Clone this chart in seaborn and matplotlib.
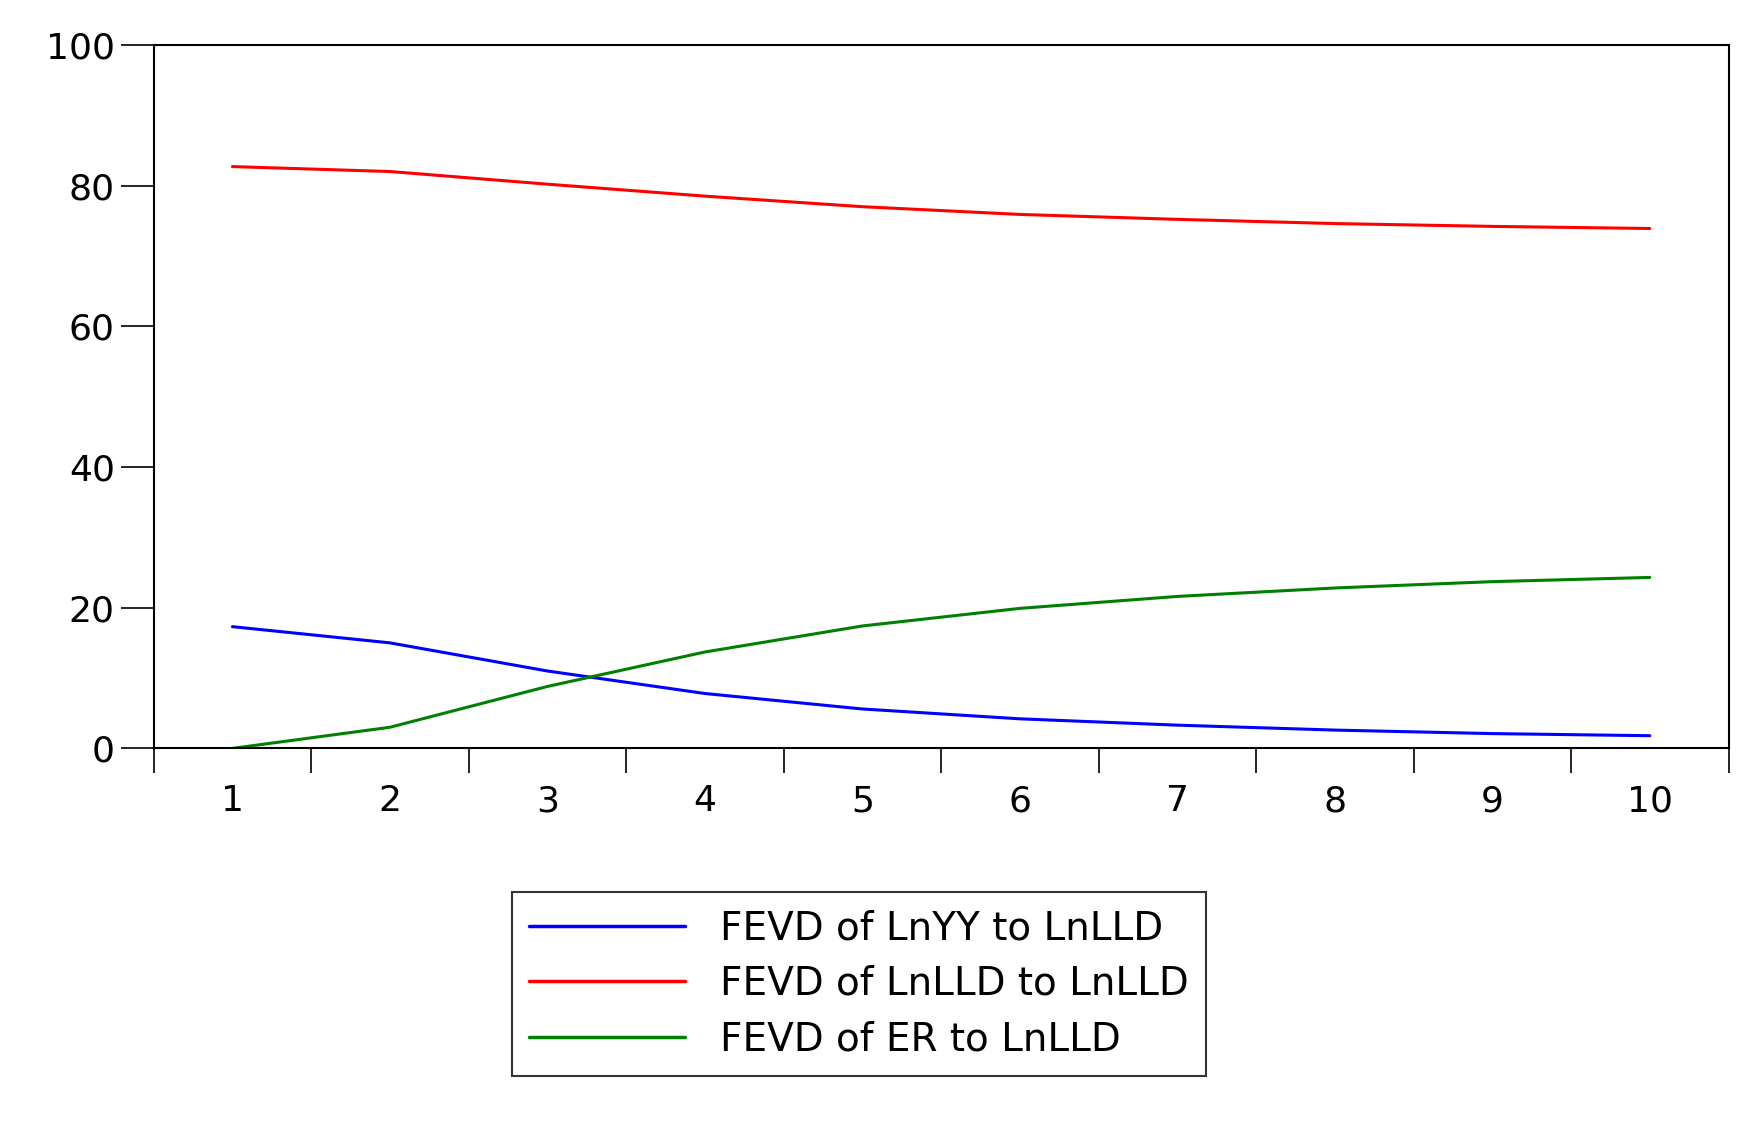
import matplotlib
matplotlib.use("Agg")
import matplotlib.pyplot as plt
import seaborn as sns
import pandas as pd
from matplotlib.ticker import FixedLocator
from matplotlib.lines import Line2D

periods = list(range(1, 11))
lnyy = [17.3, 15.0, 11.0, 7.8, 5.6, 4.2, 3.3, 2.6, 2.1, 1.8]
lnlld = [82.7, 82.0, 80.2, 78.5, 77.0, 75.9, 75.2, 74.6, 74.2, 73.9]
er = [0.0, 3.0, 8.8, 13.7, 17.4, 19.9, 21.6, 22.8, 23.7, 24.3]
names = ["FEVD of LnYY to LnLLD", "FEVD of LnLLD to LnLLD", "FEVD of ER to LnLLD"]
colors = ["#0000ff", "#ff0000", "#008000"]

sns.set_style("white")
plt.rcParams['font.family'] = ['DejaVu Sans']
plt.rcParams['text.color'] = 'black'
plt.rcParams['xtick.color'] = 'black'
plt.rcParams['ytick.color'] = 'black'

df = pd.DataFrame({"period": periods * 3,
                   "value": lnyy + lnlld + er,
                   "series": sum([[n] * 10 for n in names], [])})

fig = plt.figure(figsize=(17.46, 11.22), dpi=100)
ax = fig.add_axes([0.088, 0.333, 0.902, 0.627])
sns.lineplot(data=df, x="period", y="value", hue="series", palette=colors,
             hue_order=names, ax=ax, linewidth=2.2, legend=False)
ax.set_xlim(0.5, 10.5)
ax.set_ylim(0, 100)
ax.set_xlabel("")
ax.set_ylabel("")
for s in ax.spines.values():
    s.set_color("black")
    s.set_linewidth(1.5)
ax.set_yticks([0, 20, 40, 60, 80, 100])
ax.tick_params(axis="y", direction="out", length=24, width=1.2, labelsize=26, pad=4, left=True,
               labelcolor="black")
ax.set_xticks(periods)
ax.tick_params(axis="x", which="major", length=0, labelsize=26, pad=26, labelcolor="black")
ax.xaxis.set_minor_locator(FixedLocator([i + 0.5 for i in range(0, 11)]))
ax.tick_params(axis="x", which="minor", direction="out", length=18, width=1.2, bottom=True)

handles = [Line2D([], [], color=c, lw=2.5) for c in colors]
leg = fig.legend(handles, names, loc="upper left", bbox_to_anchor=(0.293, 0.205),
                 fontsize=28, frameon=True, fancybox=False, edgecolor="black",
                 handlelength=4.0, handletextpad=0.9, borderpad=0.45, labelspacing=0.45,
                 borderaxespad=0)
leg.get_frame().set_linewidth(1.5)
for t in leg.get_texts():
    t.set_color("black")
fig.savefig("out.png", dpi=100)
